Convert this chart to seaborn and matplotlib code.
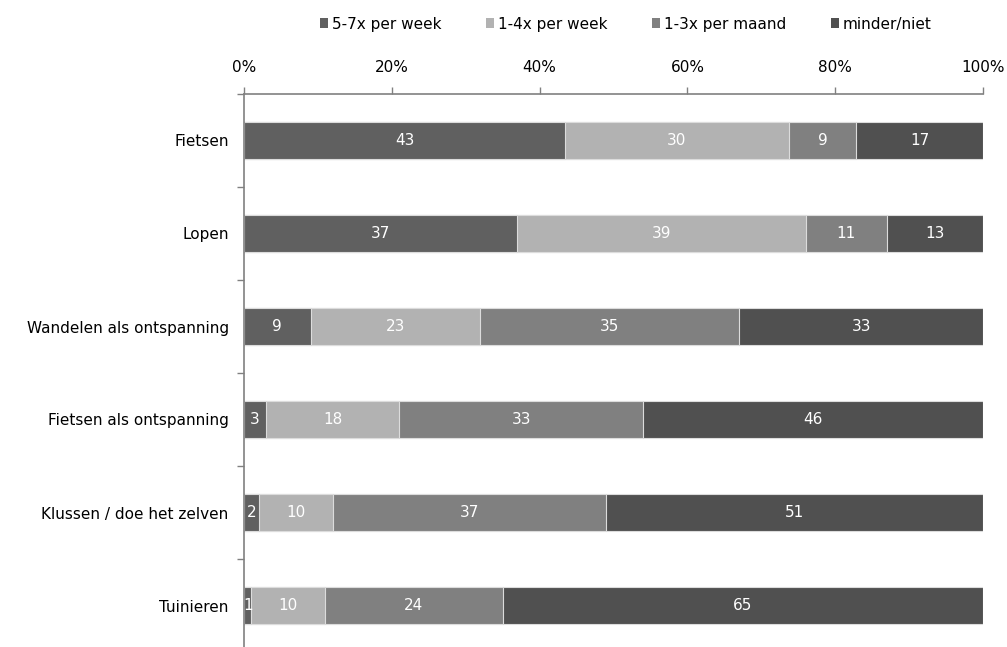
import numpy as np
import pandas as pd
import matplotlib
matplotlib.use("Agg")
import matplotlib.pyplot as plt
import seaborn as sns
from matplotlib.patches import Patch

activities = ["Fietsen", "Lopen", "Wandelen als ontspanning",
              "Fietsen als ontspanning", "Klussen / doe het zelven", "Tuinieren"]
series = ["5-7x per week", "1-4x per week", "1-3x per maand", "minder/niet"]
v_5_7_week = [43, 37, 9, 3, 2, 1]
v_1_4_week = [30, 39, 23, 18, 10, 10]
v_1_3_maand = [9, 11, 35, 33, 37, 24]
v_minder = [17, 13, 33, 46, 51, 65]
colors = ["#606060", "#b2b2b2", "#808080", "#505050"]
tick_labels = ["0%", "20%", "40%", "60%", "80%", "100%"]

sns.set_theme(style="white")
plt.rcParams["font.family"] = ["DejaVu Sans"]
plt.rcParams["text.color"] = "black"
plt.rcParams["xtick.color"] = "black"
plt.rcParams["ytick.color"] = "black"

vals = np.array([v_5_7_week, v_1_4_week, v_1_3_maand, v_minder], dtype=float)
shares = vals / vals.sum(axis=0) * 100
cum = np.cumsum(shares, axis=0)

fig = plt.figure(figsize=(10.07, 6.47), dpi=100)
ax = fig.add_axes([244 / 1007, -5 / 647, 739 / 1007, 558 / 647])

# stacked bars: draw cumulative totals from the outermost segment inwards
for i in range(len(series) - 1, -1, -1):
    df = pd.DataFrame({"activiteit": activities, "waarde": cum[i]})
    sns.barplot(data=df, y="activiteit", x="waarde", orient="h", ax=ax,
                color=colors[i], saturation=1, width=0.39,
                edgecolor="#dcdcdc", linewidth=0.8)

# value labels in the middle of each segment
for i in range(len(series)):
    start = cum[i] - shares[i]
    for j, act in enumerate(activities):
        ax.text(start[j] + shares[i][j] / 2, j, f"{int(vals[i][j])}",
                ha="center", va="center", color="white", fontsize=11)

ax.set_xlim(0, 100)
ax.set_ylim(len(activities) - 0.5, -0.5)
ax.set_xlabel("")
ax.set_ylabel("")

ax.xaxis.tick_top()
ax.set_xticks(np.arange(0, 101, 20))
ax.set_xticklabels(tick_labels, fontsize=11)
ax.tick_params(axis="x", direction="out", length=5, width=1, color="#808080",
               pad=9, top=True, bottom=False, labelcolor="black")

ax.set_yticks(range(len(activities)))
ax.set_yticklabels(activities, fontsize=11)
ax.tick_params(axis="y", which="major", length=0, pad=11, labelcolor="black")
ax.set_yticks(np.arange(-0.5, len(activities) + 0.5, 1), minor=True)
ax.tick_params(axis="y", which="minor", direction="out", length=5, width=1,
               color="#808080", left=True)

for side in ["right", "bottom"]:
    ax.spines[side].set_visible(False)
for side in ["left", "top"]:
    ax.spines[side].set_color("#808080")
    ax.spines[side].set_linewidth(1.2)

handles = [Patch(facecolor=c, edgecolor="none") for c in colors]
fig.legend(handles, series, loc="center", ncol=4, frameon=False,
           bbox_to_anchor=(626 / 1007, 1 - 24 / 647), fontsize=11,
           handlelength=0.55, handleheight=0.55, handletextpad=0.25,
           columnspacing=2.9)

fig.savefig("out.png", dpi=100)
